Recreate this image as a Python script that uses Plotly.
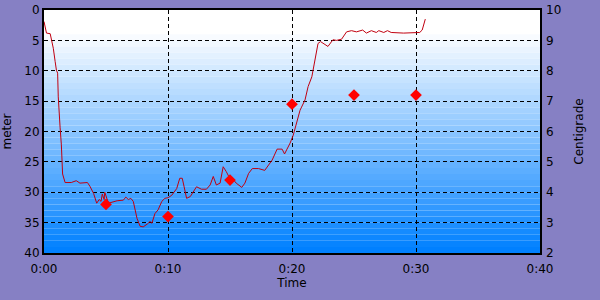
import plotly.graph_objects as go

# Depth profile (time in minutes, depth in meters)
depth_time = [0.0, 0.2, 0.5, 0.6, 0.75, 0.9, 1.0, 1.1, 1.15, 1.3, 1.4, 1.5, 1.7, 2.2, 2.6, 2.9,
              3.5, 3.7, 4.0, 4.25, 4.45, 4.6, 4.7, 4.85, 4.9, 5.2, 5.6, 5.9, 6.4, 6.6, 6.8, 7.0,
              7.2, 7.5, 7.75, 8.0, 8.35, 8.55, 8.7, 8.95, 9.2, 9.5, 9.75, 10.0, 10.3, 10.7, 10.95,
              11.15, 11.3, 11.5, 11.8, 12.3, 12.7, 13.1, 13.4, 13.65, 13.9, 14.2, 14.45, 14.7,
              15.0, 15.3, 15.5, 15.95, 16.2, 16.5, 16.8, 17.3, 17.8, 18.1, 18.4, 18.8, 19.2, 19.4,
              19.85, 20.1, 20.4, 20.65, 21.05, 21.3, 21.6, 21.85, 22.1, 22.3, 22.5, 22.9, 23.3,
              23.6, 24.0, 24.4, 24.8, 25.2, 25.7, 26.0, 26.4, 26.8, 27.0, 27.4, 27.7, 28.0, 29.0,
              30.0, 30.3, 30.5, 30.65, 30.75]
depth_m = [1.9, 3.8, 3.9, 4.9, 6.3, 8.5, 9.9, 10.4, 14.3, 19.4, 22.2, 27.0, 28.4, 28.4, 28.1, 28.5,
           28.4, 29.0, 30.2, 31.8, 31.2, 31.5, 30.3, 31.2, 30.0, 31.8, 31.5, 31.4, 31.3, 30.8, 31.2, 31.0,
           31.5, 34.3, 35.6, 35.7, 35.2, 34.8, 35.1, 33.5, 32.9, 31.5, 31.0, 30.9, 30.5, 29.4, 27.7,
           27.7, 29.1, 31.0, 30.7, 29.1, 29.5, 29.5, 28.8, 27.4, 28.8, 28.5, 25.8, 26.6,
           27.8, 28.0, 28.5, 29.2, 28.5, 26.9, 26.1, 26.1, 26.4, 25.5, 24.7, 22.9, 22.9, 23.7,
           21.9, 20.6, 18.1, 16.5, 14.8, 12.6, 11.0, 8.5, 5.5, 5.2, 5.5, 6.0, 4.9,
           5.0, 4.8, 3.6, 3.4, 3.6, 3.3, 3.8, 3.4, 3.7, 3.4, 3.7, 3.4, 3.7, 3.8,
           3.8, 3.7, 3.3, 2.0, 1.5]

# Temperature samples
temp_time = [5, 10, 15, 20, 25, 30]
temp_c = [3.6, 3.2, 4.4, 6.9, 7.2, 7.2]

x_ticks = [0, 10, 20, 30, 40]
x_tick_labels = ["0:00", "0:10", "0:20", "0:30", "0:40"]
depth_ticks = [0, 5, 10, 15, 20, 25, 30, 35, 40]
temp_ticks = [2, 3, 4, 5, 6, 7, 8, 9, 10]

font = dict(family="DejaVu Sans", size=12, color="#000000")

fig = go.Figure()
fig.add_trace(go.Scatter(x=depth_time, y=depth_m, mode="lines",
                         line=dict(color="#C00010", width=1), yaxis="y", showlegend=False))
fig.add_trace(go.Scatter(x=temp_time, y=temp_c, mode="markers",
                         marker=dict(symbol="diamond", size=9, color="#FF0000",
                                     line=dict(width=0)),
                         yaxis="y2", showlegend=False))

# gradient background bands
shapes = []
n = 40
for i in range(n):
    f = max(0.0, (i - 3) / (n - 4))
    r = int(round(255 * (1 - f)))
    g = int(round(255 - (255 - 128) * f))
    b = 255
    shapes.append(dict(type="rect", xref="paper", yref="y", x0=0, x1=1,
                       y0=i, y1=i + 1, line=dict(width=0),
                       fillcolor=f"rgb({r},{g},{b})", layer="below"))

fig.update_layout(
    width=600, height=300,
    margin=dict(l=44, r=60, t=10, b=47),
    paper_bgcolor="rgb(134,128,196)",
    plot_bgcolor="#FFFFFF",
    font=font,
    shapes=shapes,
    xaxis=dict(range=[0, 40], tickvals=x_ticks, ticktext=x_tick_labels,
               showgrid=True, gridcolor="#000000", griddash="4px,3px", gridwidth=1,
               showline=True, linecolor="#000000", linewidth=2, mirror=True,
               zeroline=False, ticks="", ticklen=0, automargin=False,
               ticklabelstandoff=4,
               title=dict(text="Time", font=font, standoff=2)),
    yaxis=dict(range=[40, 0], tickvals=depth_ticks,
               showgrid=True, gridcolor="#000000", griddash="4px,3px", gridwidth=1,
               showline=True, linecolor="#000000", linewidth=2, mirror=True,
               zeroline=False, ticks="", ticklen=0, automargin=False,
               title=dict(text="meter", font=font, standoff=10)),
    yaxis2=dict(range=[2, 10], tickvals=temp_ticks, overlaying="y", side="right",
                showgrid=False, zeroline=False, showline=False, ticks="", automargin=False,
                ticklabelstandoff=5,
                title=dict(text="Centigrade", font=font, standoff=14)),
)

fig.write_html("out.html")
